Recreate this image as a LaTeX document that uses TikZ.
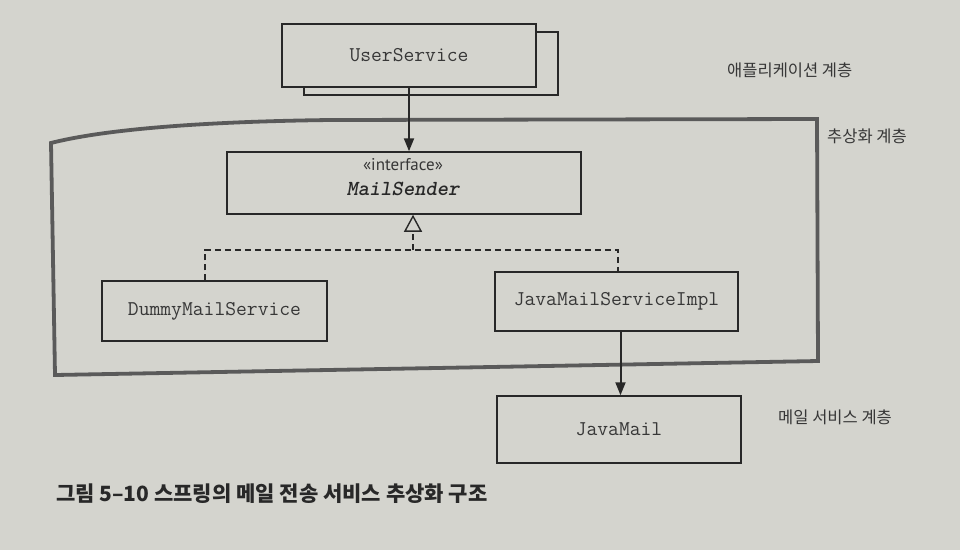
\documentclass[tikz,border=0pt]{standalone}
\usepackage{fontspec}
\newfontfamily\kr{Noto Sans CJK KR}
\newfontfamily\ifsans{PT Sans}
\usetikzlibrary{arrows.meta,calc}
\definecolor{paper}{RGB}{212,212,206}
\definecolor{ink}{RGB}{40,40,40}
\definecolor{txt}{RGB}{55,55,55}
\definecolor{frame}{RGB}{90,90,90}
\begin{document}
\begin{tikzpicture}[x=1pt,y=-1pt,
  cls/.style={draw=ink,line width=1.5pt,fill=paper,rectangle,inner sep=0pt,
    text=txt,font=\ttfamily\fontsize{21}{23}\selectfont},
  lay/.style={anchor=west,inner sep=0pt,text=txt,font=\kr\fontsize{16.5}{18}\selectfont},
  solidarrow/.style={draw=ink,line width=2pt,-{Triangle[width=10pt,length=13pt]}},
  realize/.style={draw=ink,line width=1.4pt,dash pattern=on 6pt off 4pt}
]
\fill[paper] (0,0) rectangle (960,550);
\useasboundingbox (0,0) rectangle (960,550);

% abstraction layer frame
\draw[frame,line width=3.8pt,line join=miter]
  (51,143) .. controls (90,133) and (170,122) .. (330,120) -- (817,119)
  -- (818,361) -- (55,375) -- cycle;

% UserService (stacked)
\node[cls,minimum width=254pt,minimum height=63pt] (usback) at (431,63.5) {};
\node[cls,minimum width=254pt,minimum height=63pt] (us) at (409,55.5) {UserService};

% MailSender interface
\node[cls,minimum width=354pt,minimum height=62pt] (ms) at (404,183) {};
\node[inner sep=0pt,text=txt,font=\ifsans\fontsize{17}{18}\selectfont] (msst) at (403,165) {«interface»};
\node[inner sep=0pt,text=ink,font=\ttfamily\bfseries\itshape\fontsize{21.5}{23}\selectfont] (msname) at (403,189) {MailSender};

% implementations
\node[cls,minimum width=225pt,minimum height=60pt] (dummy) at (214.5,311) {DummyMailService};
\node[cls,minimum width=243pt,minimum height=59pt] (impl) at (616.5,301.5) {JavaMailServiceImpl};
\node[cls,minimum width=244pt,minimum height=67pt] (jm) at (619,429.5) {JavaMail};

% connectors
\coordinate (implout) at ([xshift=4pt]impl.south);
\draw[solidarrow] (us.south) -- (us.south |- ms.north);
\draw[solidarrow] (implout) -- (implout |- jm.north);

\coordinate (jl) at (205,250);
\coordinate (jr) at (618,250);
\coordinate (jc) at (413,250);
\draw[realize] (dummy.north -| jl) -- (jl) -- (jr) -- (impl.north -| jr);
\draw[realize,-{Triangle[open,width=18pt,length=17pt,line width=1.4pt]}] (jc) -- (jc |- ms.south);

% layer labels
\node[lay] (l1) at (727,70) {애플리케이션 계층};
\node[lay] (l2) at (827,136) {추상화 계층};
\node[lay] (l3) at (778,417) {메일 서비스 계층};

% caption
\node[anchor=west,inner sep=0pt,text=ink,font=\kr\bfseries\fontsize{21}{23}\selectfont] (cap) at (56,494) {그림 5–10 스프링의 메일 전송 서비스 추상화 구조};
\end{tikzpicture}
\end{document}
